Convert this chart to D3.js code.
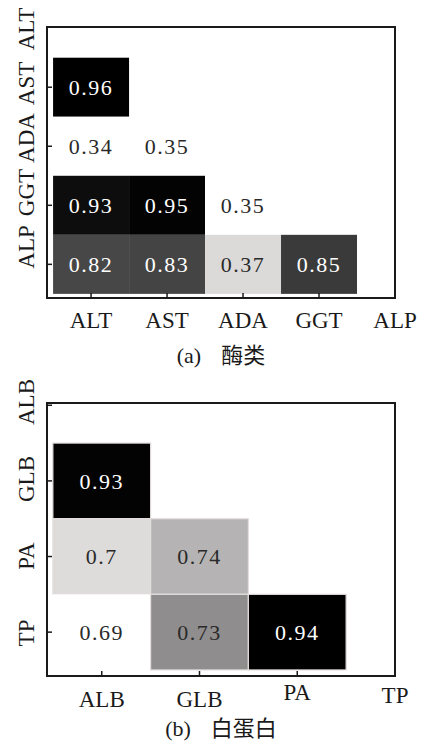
<!DOCTYPE html>
<html>
<head>
<meta charset="utf-8">
<script src="https://cdn.jsdelivr.net/npm/d3@7"></script>
<style>
  html, body { margin: 0; padding: 0; background: #fff; }
  svg { display: block; }
</style>
</head>
<body>
<svg id="chart" width="421" height="744"></svg>
<script>
// (a) enzyme correlations, lower triangle
const enzymeVars = ["ALT", "AST", "ADA", "GGT", "ALP"];
const enzymeRows = ["AST", "ADA", "ADA", "GGT", "GGT", "GGT", "ALP", "ALP", "ALP", "ALP"];
const enzymeCols = ["ALT", "ALT", "AST", "ALT", "AST", "ADA", "ALT", "AST", "ADA", "GGT"];
const enzymeValues = [0.96, 0.34, 0.35, 0.93, 0.95, 0.35, 0.82, 0.83, 0.37, 0.85];
// colour stops: correlation -> darkness (0 white, 1 black)
const enzymeShadeDomain = [0.35, 0.37, 0.82, 0.83, 0.85, 0.93, 0.95, 0.96];
const enzymeShadeLevel  = [0.00, 0.14, 0.72, 0.73, 0.77, 0.95, 0.99, 1.00];

// (b) protein correlations, lower triangle
const proteinVars = ["ALB", "GLB", "PA", "TP"];
const proteinRows = ["GLB", "PA", "PA", "TP", "TP", "TP"];
const proteinCols = ["ALB", "ALB", "GLB", "ALB", "GLB", "PA"];
const proteinValues = [0.93, 0.7, 0.74, 0.69, 0.73, 0.94];
const proteinShadeDomain = [0.69, 0.70, 0.73, 0.74, 0.93, 0.94];
const proteinShadeLevel  = [0.00, 0.13, 0.44, 0.29, 0.99, 1.00];

const SERIF = "'Liberation Serif', 'Times New Roman', Times, serif";
const CJK = "'Noto Sans CJK SC', 'Noto Sans CJK JP', sans-serif";

const svg = d3.select("#chart");
// darkness -> grey, with a faint warm tint in the light greys
const grey = d3.scaleLinear()
  .domain([0, 0.1, 1])
  .range(["#ffffff", "#e6e3e3", "#000000"])
  .interpolate(d3.interpolateRgb);

function drawPanel(p) {
  const g = svg.append("g");
  const n = p.vars.length;
  const x = d3.scaleLinear().domain(p.xDomain).range([p.left, p.right]);
  const y = d3.scaleLinear().domain(p.yDomain).range([p.top, p.bottom]);
  const shade = d3.scaleLinear().domain(p.shadeDomain).range(p.shadeLevel).clamp(true);
  const idx = v => p.vars.indexOf(v);

  const cells = p.values.map((v, i) => ({ r: idx(p.rows[i]), c: idx(p.cols[i]), v }));

  g.selectAll("rect.cell").data(cells).join("rect")
    .attr("class", "cell")
    .attr("x", d => x(d.c - 0.5))
    .attr("y", d => y(d.r - 0.5))
    .attr("width", d => x(d.c + 0.5) - x(d.c - 0.5))
    .attr("height", d => y(d.r + 0.5) - y(d.r - 0.5))
    .attr("fill", d => grey(shade(d.v)))
    .attr("stroke", d => (p.cellStroke !== "none" && shade(d.v) > 0) ? p.cellStroke : "none")
    .attr("stroke-width", 1.2);

  g.selectAll("text.val").data(cells).join("text")
    .attr("class", "val")
    .attr("x", d => x(d.c))
    .attr("y", d => y(d.r))
    .attr("dy", "0.36em")
    .attr("text-anchor", "middle")
    .attr("font-family", SERIF)
    .attr("font-size", 22)
    .attr("letter-spacing", 1.5)
    .attr("fill", d => shade(d.v) > 0.6 ? "#ffffff" : "#2a2a2a")
    .text(d => String(d.v));

  // frame
  g.append("rect")
    .attr("x", p.left).attr("y", p.top)
    .attr("width", p.right - p.left).attr("height", p.bottom - p.top)
    .attr("fill", "none").attr("stroke", "#1a1a1a").attr("stroke-width", 2);

  // inward ticks on bottom and left
  const xt = d3.range(n).filter(i => x(i) < p.right - 2);
  const yt = d3.range(n).filter(i => y(i) > p.top + 2);
  g.selectAll("line.xt").data(xt).join("line")
    .attr("x1", i => x(i)).attr("x2", i => x(i))
    .attr("y1", p.bottom).attr("y2", p.bottom - 5)
    .attr("stroke", "#1a1a1a").attr("stroke-width", 1.5);
  g.selectAll("line.yt").data(yt).join("line")
    .attr("y1", i => y(i)).attr("y2", i => y(i))
    .attr("x1", p.left).attr("x2", p.left + 5)
    .attr("stroke", "#1a1a1a").attr("stroke-width", 1.5);

  // category labels
  g.selectAll("text.xl").data(p.vars).join("text")
    .attr("class", "xl")
    .attr("x", (v, i) => x(i))
    .attr("y", (v, i) => p.xLabelY + (p.xLabelShift ? p.xLabelShift[i] : 0))
    .attr("text-anchor", "middle")
    .attr("font-family", SERIF)
    .attr("font-size", 23)
    .attr("fill", "#1a1a1a")
    .text(v => v);

  const yl = d3.scalePoint().domain(p.vars).range(p.yLabelRange);
  g.selectAll("text.yl").data(p.vars).join("text")
    .attr("class", "yl")
    .attr("transform", v => `translate(34,${yl(v)}) rotate(-90)`)
    .attr("text-anchor", "middle")
    .attr("font-family", SERIF)
    .attr("font-size", 23)
    .attr("fill", "#1a1a1a")
    .text(v => v);

  // caption
  const cap = g.append("text")
    .attr("x", (p.left + p.right) / 2)
    .attr("y", p.captionY)
    .attr("text-anchor", "middle")
    .attr("font-family", SERIF)
    .attr("font-size", 22)
    .attr("fill", "#1a1a1a");
  cap.append("tspan").text(p.captionTag);
  cap.append("tspan").attr("dx", 20)
    .attr("font-family", CJK)
    .attr("fill", "#1a1a1a")
    .text(p.captionText);
}

drawPanel({
  vars: enzymeVars, rows: enzymeRows, cols: enzymeCols, values: enzymeValues,
  shadeDomain: enzymeShadeDomain, shadeLevel: enzymeShadeLevel,
  left: 47, right: 395, top: 27, bottom: 298,
  xDomain: [-0.58, 4], yDomain: [-0.02, 4.57],
  cellStroke: "none",
  xLabelY: 328, yLabelRange: [29, 247],
  captionY: 363, captionTag: "(a)", captionText: "酶类"
});

drawPanel({
  vars: proteinVars, rows: proteinRows, cols: proteinCols, values: proteinValues,
  shadeDomain: proteinShadeDomain, shadeLevel: proteinShadeLevel,
  left: 47, right: 395, top: 403, bottom: 676,
  xDomain: [-0.56, 3], yDomain: [-0.03, 3.58],
  cellStroke: "#e4dddd",
  xLabelY: 707, xLabelShift: [0, 0, -7, -4], yLabelRange: [402, 633],
  captionY: 736, captionTag: "(b)", captionText: "白蛋白"
});
</script>
</body>
</html>
